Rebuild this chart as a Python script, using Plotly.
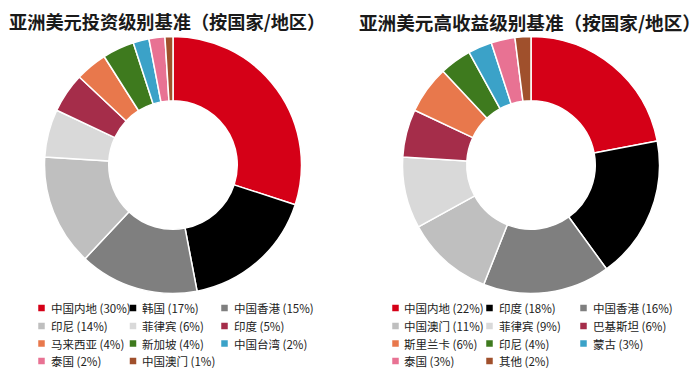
import plotly.graph_objects as go

# ---- data ----
title_left = "亚洲美元投资级别基准（按国家/地区）"
title_right = "亚洲美元高收益级别基准（按国家/地区）"

labels_left = ["中国内地", "韩国", "中国香港", "印尼", "菲律宾", "印度",
               "马来西亚", "新加坡", "中国台湾", "泰国", "中国澳门"]
values_left = [30, 17, 15, 14, 6, 5, 4, 4, 2, 2, 1]

labels_right = ["中国内地", "印度", "中国香港", "中国澳门", "菲律宾", "巴基斯坦",
                "斯里兰卡", "印尼", "蒙古", "泰国", "其他"]
values_right = [22, 18, 16, 11, 9, 6, 6, 4, 3, 3, 2]

colors = ["#d50017", "#000000", "#7f7f7f", "#bfbfbf", "#d9d9d9", "#a52d4a",
          "#e8784c", "#3e7a1e", "#3ba2c8", "#e87293", "#a0502c"]

W, H = 700, 378
FONT = "Noto Sans CJK SC"


def px_x(v):
    return v / W


def px_y(v):
    return 1 - v / H


fig = go.Figure()


def add_donut(labels, values, cx, cy, r):
    fig.add_trace(go.Pie(
        labels=labels, values=values, hole=0.5, sort=False,
        direction="clockwise", rotation=0,
        marker=dict(colors=colors, line=dict(color="white", width=1.5)),
        textinfo="none", hoverinfo="label+percent", showlegend=False,
        domain=dict(x=[px_x(cx - r), px_x(cx + r)],
                    y=[px_y(cy + r), px_y(cy - r)]),
    ))


R = 128.5
add_donut(labels_left, values_left, 173, 165, R)
add_donut(labels_right, values_right, 531, 165, R)

annotations = []
shapes = []

for txt, x, size in [(title_left, 7, 18.2), (title_right, 357, 18.6)]:
    annotations.append(dict(
        text="<b>" + txt + "</b>", x=px_x(x), y=px_y(21), xref="paper", yref="paper",
        xanchor="left", yanchor="middle", showarrow=False,
        font=dict(family=FONT, size=size, color="#1a1a1a")))


def add_legend(labels, values, x0, pitch):
    row_y = [308, 326, 343.5, 361]
    sq = 6.5
    for i, (lab, val) in enumerate(zip(labels, values)):
        row, col = divmod(i, 3)
        cx = x0 + col * pitch
        cy = row_y[row]
        shapes.append(dict(
            type="rect", xref="paper", yref="paper",
            x0=px_x(cx - sq / 2), x1=px_x(cx + sq / 2),
            y0=px_y(cy + sq / 2), y1=px_y(cy - sq / 2),
            fillcolor=colors[i], line=dict(width=0)))
        annotations.append(dict(
            text=f"{lab} ({val}%)", x=px_x(cx + 7), y=px_y(cy),
            xref="paper", yref="paper", xanchor="left", yanchor="middle",
            showarrow=False, font=dict(family=FONT, size=11.5, color="#222222")))


add_legend(labels_left, values_left, 41.5, 91.5)
add_legend(labels_right, values_right, 395.5, 94)

fig.update_layout(
    width=W, height=H,
    margin=dict(l=0, r=0, t=0, b=0),
    paper_bgcolor="white", plot_bgcolor="white",
    showlegend=False,
    annotations=annotations, shapes=shapes,
    font=dict(family=FONT),
)

fig.write_html("out.html", config={"displayModeBar": False},
               post_script="document.body.style.margin='0';document.body.style.overflow='hidden';")
